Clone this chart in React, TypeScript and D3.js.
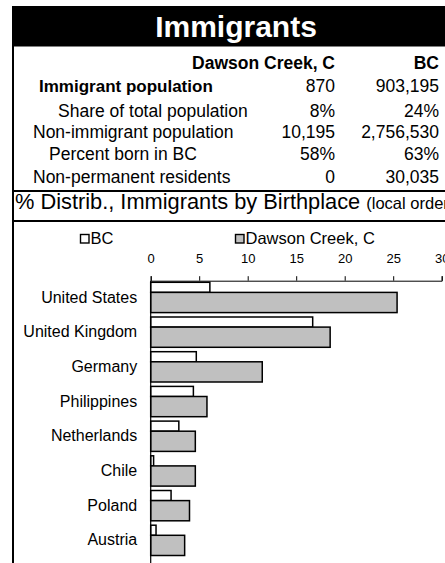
import React, { useEffect, useRef } from 'react';
import * as d3 from 'd3';

const title = 'Immigrants';
const columnHeads = ['Dawson Creek, C', 'BC'];
const rowLabels = [
  'Immigrant population',
  'Share of total population',
  'Non-immigrant population',
  'Percent born in BC',
  'Non-permanent residents',
];
const dawsonStats = ['870', '8%', '10,195', '58%', '0'];
const bcStats = ['903,195', '24%', '2,756,530', '63%', '30,035'];

const chartTitle = '% Distrib., Immigrants by Birthplace';
const chartSubtitle = '(local order)';
const seriesNames = ['BC', 'Dawson Creek, C'];
const categories = [
  'United States',
  'United Kingdom',
  'Germany',
  'Philippines',
  'Netherlands',
  'Chile',
  'Poland',
  'Austria',
];
const bcValues = [6.1, 16.7, 4.7, 4.4, 2.9, 0.3, 2.1, 0.55];
const dawsonValues = [25.4, 18.5, 11.5, 5.8, 4.6, 4.6, 4.0, 3.5];
const xTicks = [0, 5, 10, 15, 20, 25, 30];

const W = 445;
const H = 563;
const FONT = '"Liberation Sans", Arial, sans-serif';

const App: React.FC = () => {
  const svgRef = useRef<SVGSVGElement>(null);

  useEffect(() => {
    if (!svgRef.current) return;
    const svg = d3.select(svgRef.current);
    svg.selectAll('*').remove();
    svg.style('font-family', FONT);

    // frame + title bar
    svg.append('rect').attr('x', 12).attr('y', 6).attr('width', 500).attr('height', 40.5).attr('fill', '#000');
    svg.append('line').attr('x1', 13).attr('x2', 13).attr('y1', 6).attr('y2', H + 5)
      .attr('stroke', '#000').attr('stroke-width', 2);
    [191, 221].forEach(yy => {
      svg.append('line').attr('x1', 12).attr('x2', 520).attr('y1', yy).attr('y2', yy)
        .attr('stroke', '#000').attr('stroke-width', 2);
    });

    svg.append('text').attr('x', 236).attr('y', 36.5).attr('text-anchor', 'middle')
      .attr('fill', '#fff').attr('font-weight', 'bold').attr('font-size', 30).text(title);

    // stats table
    const colX = [335, 439];
    columnHeads.forEach((h, i) => {
      svg.append('text').attr('x', colX[i]).attr('y', 69).attr('text-anchor', 'end')
        .attr('font-weight', 'bold').attr('font-size', 17.5).text(h);
    });
    const rowY = [92, 116.5, 137.5, 159.5, 183];
    const rowX = [39, 58, 33, 49, 33];
    rowLabels.forEach((lab, i) => {
      svg.append('text').attr('x', rowX[i]).attr('y', rowY[i])
        .attr('font-size', i === 0 ? 17 : 17.5)
        .attr('font-weight', i === 0 ? 'bold' : 'normal').text(lab);
      svg.append('text').attr('x', colX[0]).attr('y', rowY[i]).attr('text-anchor', 'end')
        .attr('font-size', 17.5).text(dawsonStats[i]);
      svg.append('text').attr('x', colX[1]).attr('y', rowY[i]).attr('text-anchor', 'end')
        .attr('font-size', 17.5).text(bcStats[i]);
    });

    const ct = svg.append('text').attr('x', 15).attr('y', 208.5).attr('font-size', 21.8);
    ct.append('tspan').text(chartTitle + ' ');
    ct.append('tspan').attr('font-size', 16.5).text(chartSubtitle);

    // legend
    const legend = [
      { x: 80.5, fill: '#fff', name: seriesNames[0] },
      { x: 235.5, fill: '#c0c0c0', name: seriesNames[1] },
    ];
    legend.forEach(l => {
      svg.append('rect').attr('x', l.x).attr('y', 234.5).attr('width', 8.5).attr('height', 8.5)
        .attr('fill', l.fill).attr('stroke', '#000').attr('stroke-width', 1.4);
      svg.append('text').attr('x', l.x + 10).attr('y', 243.5).attr('font-size', 16.5).text(l.name);
    });

    // chart
    const x0 = 150.7;
    const axisY = 280.7;
    const x = d3.scaleLinear().domain([0, 30]).range([x0, 441.7]);
    const y = d3.scaleBand<string>()
      .domain(categories)
      .range([282.3, 282.3 + 34.7 * 8 - 4.4])
      .paddingInner(0.127)
      .paddingOuter(0);
    const bw = y.bandwidth();

    const xAxis = svg.append('g')
      .attr('transform', `translate(0,${axisY})`)
      .call(d3.axisTop(x).tickValues(xTicks).tickSize(4.5).tickSizeOuter(4.5).tickPadding(13));
    xAxis.select('.domain').attr('stroke', '#000').attr('stroke-width', 1);
    xAxis.selectAll('.tick line').attr('stroke', '#000');
    xAxis.selectAll('.tick text').attr('font-size', 13).attr('font-family', FONT).attr('fill', '#000');

    const bars = svg.append('g');
    bars.selectAll('.bc')
      .data(categories)
      .enter()
      .append('rect')
      .attr('x', x(0))
      .attr('y', d => y(d)!)
      .attr('width', (d, i) => x(bcValues[i]) - x(0))
      .attr('height', bw / 3)
      .attr('fill', '#fff')
      .attr('stroke', '#000')
      .attr('stroke-width', 1.5);
    bars.selectAll('.dc')
      .data(categories)
      .enter()
      .append('rect')
      .attr('x', x(0))
      .attr('y', d => y(d)! + bw / 3)
      .attr('width', (d, i) => x(dawsonValues[i]) - x(0))
      .attr('height', (bw * 2) / 3)
      .attr('fill', '#c0c0c0')
      .attr('stroke', '#000')
      .attr('stroke-width', 1.5);

    const yAxis = svg.append('g')
      .attr('transform', `translate(${x0},0)`)
      .call(d3.axisLeft(y).tickSize(0).tickPadding(13.5));
    yAxis.select('.domain').remove();
    yAxis.selectAll('.tick text').attr('font-size', 16).attr('font-family', FONT).attr('fill', '#000');

    svg.append('line').attr('x1', x0).attr('x2', x0).attr('y1', axisY).attr('y2', H + 5)
      .attr('stroke', '#000').attr('stroke-width', 1.2);
  }, []);

  return (
    <svg
      ref={svgRef}
      width={W}
      height={H}
      style={{ position: 'absolute', left: 0, top: 0, background: '#fff' }}
    />
  );
};

export default App;
